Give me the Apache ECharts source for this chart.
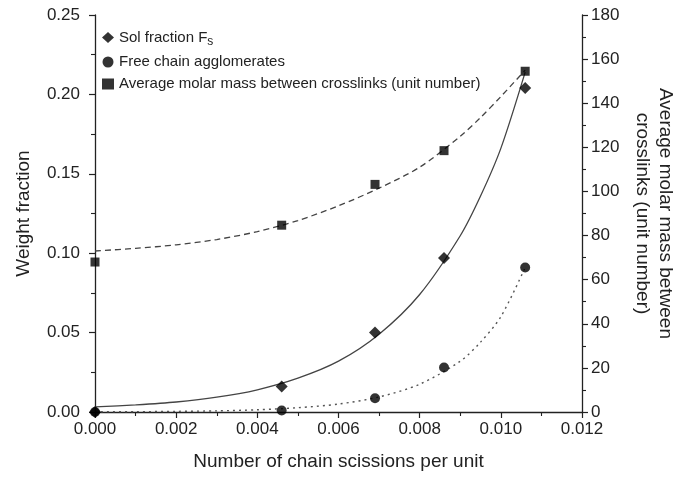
<!DOCTYPE html>
<html>
<head>
<meta charset="utf-8">
<script src="https://cdn.jsdelivr.net/npm/echarts@6/dist/echarts.min.js"></script>
<style>
html,body{margin:0;padding:0;background:#fff;}
#chart{width:688px;height:479px;}
</style>
</head>
<body>
<div id="chart"></div>
<script>
// measured points
const xPoints = [0, 0.0046, 0.0069, 0.0086, 0.0106];
const solFraction = [0, 0.016, 0.050, 0.097, 0.204];
const freeChain = [0, 0.001, 0.0087, 0.028, 0.091];
const molarMass = [68, 84.7, 103.2, 118.5, 154.5];

// fitted curves
const fitX = [0, 0.001, 0.002, 0.003, 0.004, 0.005, 0.006, 0.007, 0.008, 0.009, 0.0095, 0.010, 0.0106];
const solFit = [0.0032, 0.0045, 0.0063, 0.0093, 0.0140, 0.0213, 0.032, 0.049, 0.074, 0.111, 0.136, 0.166, 0.214];
const freeFit = [0.0001, 0.0002, 0.0004, 0.0007, 0.0014, 0.0027, 0.0050, 0.0095, 0.0175, 0.032, 0.044, 0.060, 0.091];
const molarFit = [73, 74.2, 75.8, 78.2, 81.8, 86.8, 93.5, 101.5, 111, 125, 133.5, 143, 155];

const xTicks = ['0.000', '0.002', '0.004', '0.006', '0.008', '0.010', '0.012'];

const FONT = "'Liberation Sans', Arial, sans-serif";
const pair = (xs, ys) => xs.map((x, i) => [x, ys[i]]);

const chart = echarts.init(document.getElementById('chart'), null, {renderer: 'canvas'});

const axisCommon = {
  axisLine: {show: true, lineStyle: {color: '#222', width: 1.3}},
  axisTick: {show: true, inside: false, length: 6, lineStyle: {color: '#222', width: 1.2}},
  minorTick: {show: true, splitNumber: 2, length: 4, lineStyle: {color: '#222', width: 1.1}},
  splitLine: {show: false},
  axisLabel: {color: '#222', fontSize: 17, fontFamily: FONT, margin: 9},
  nameTextStyle: {color: '#222', fontSize: 19, fontFamily: FONT}
};

chart.setOption({
  animation: false,
  backgroundColor: '#fff',
  grid: {left: 95, right: 106, top: 15, bottom: 67, containLabel: false},
  legend: {
    orient: 'vertical',
    left: 97,
    top: 25,
    itemGap: 7,
    itemWidth: 12,
    itemHeight: 11,
    selectedMode: false,
    data: ['Sol fraction Fs', 'Free chain agglomerates', 'Average molar mass between crosslinks (unit number)'],
    formatter: function (name) {
      if (name === 'Sol fraction Fs') return 'Sol fraction F{sub|s}';
      return name;
    },
    textStyle: {
      color: '#222', fontSize: 15, fontFamily: FONT,
      rich: {sub: {fontSize: 12, fontFamily: FONT, color: '#222', verticalAlign: 'bottom', padding: [8, 0, 0, 0]}}
    }
  },
  xAxis: Object.assign({}, axisCommon, {
    type: 'value', min: 0, max: 0.012, interval: 0.002,
    name: 'Number of chain scissions per unit',
    nameLocation: 'middle', nameGap: 40,
    axisLabel: Object.assign({}, axisCommon.axisLabel, {
      formatter: function (v) { const i = Math.round(v / 0.002); return xTicks[i] !== undefined ? xTicks[i] : v.toFixed(3); }
    })
  }),
  yAxis: [
    Object.assign({}, axisCommon, {
      type: 'value', min: 0, max: 0.25, interval: 0.05, position: 'left',
      name: 'Weight fraction', nameLocation: 'middle', nameGap: 62, nameRotate: 90,
      axisLabel: Object.assign({}, axisCommon.axisLabel, {margin: 15, formatter: v => v.toFixed(2)})
    }),
    Object.assign({}, axisCommon, {
      type: 'value', min: 0, max: 180, interval: 20, position: 'right',
      name: 'Average molar mass between\ncrosslinks (unit number)',
      nameLocation: 'middle', nameGap: 45, nameRotate: -90,
      nameTextStyle: {color: '#222', fontSize: 19, fontFamily: FONT, lineHeight: 23, align: 'center'}
    })
  ],
  series: [
    {
      name: 'Sol fraction Fs', type: 'scatter', yAxisIndex: 0,
      symbol: 'diamond', symbolSize: 12, itemStyle: {color: '#000'},
      data: pair(xPoints, solFraction), z: 5
    },
    {
      name: 'Free chain agglomerates', type: 'scatter', yAxisIndex: 0,
      symbol: 'circle', symbolSize: 10, itemStyle: {color: '#000'},
      data: pair(xPoints, freeChain), z: 5
    },
    {
      name: 'Average molar mass between crosslinks (unit number)', type: 'scatter', yAxisIndex: 1,
      symbol: 'rect', symbolSize: 9, itemStyle: {color: '#000'},
      data: pair(xPoints, molarMass), z: 5
    },
    {
      name: 'solFit', type: 'line', yAxisIndex: 0, showSymbol: false, symbol: 'none', smooth: 0.3,
      lineStyle: {color: '#444', width: 1.3, type: 'solid'},
      data: pair(fitX, solFit), silent: true, z: 3
    },
    {
      name: 'freeFit', type: 'line', yAxisIndex: 0, showSymbol: false, symbol: 'none', smooth: 0.3,
      lineStyle: {color: '#555', width: 1.4, type: [2, 4]},
      data: pair(fitX, freeFit), silent: true, z: 3
    },
    {
      name: 'molarFit', type: 'line', yAxisIndex: 1, showSymbol: false, symbol: 'none', smooth: 0.3,
      lineStyle: {color: '#444', width: 1.3, type: [6, 4]},
      data: pair(fitX, molarFit), silent: true, z: 3
    }
  ]
});
</script>
</body>
</html>
